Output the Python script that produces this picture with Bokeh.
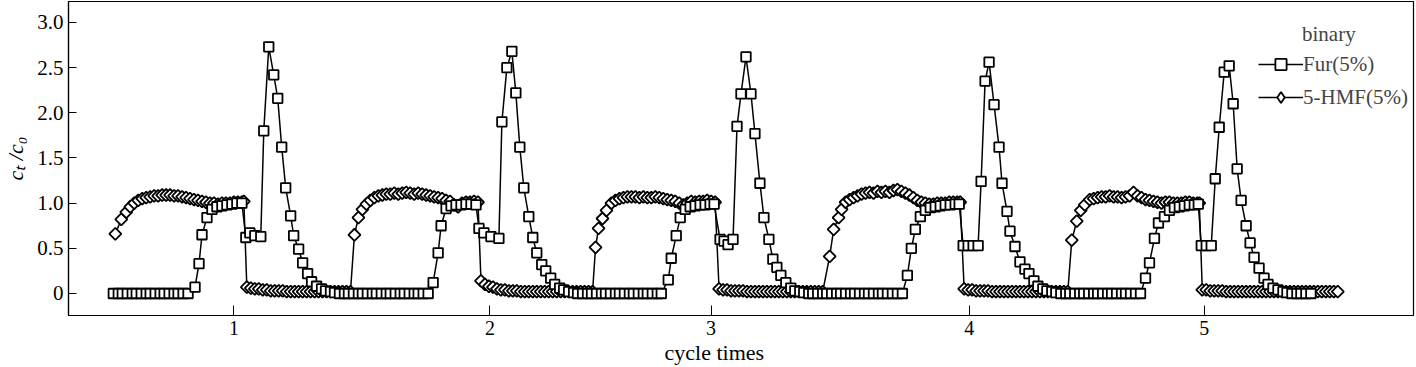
from bokeh.plotting import figure
from bokeh.models import (Range1d, FixedTicker, PrintfTickFormatter, Legend,
                          LegendItem, Label, Title, ColumnDataSource)
from bokeh.embed import file_html
from bokeh.resources import INLINE

# ---------------- data (t: elapsed time, arbitrary units; c: ct/c0) ----------------
cycle_ticks = [229, 486, 708, 967, 1203]
cycle_labels = ["1", "2", "3", "4", "5"]

hmf_t1 = [110,116,121,125,129,133,137,141,145,149,153,157,161,165,169,173,177,181,185,189,
          193,197,201,205,209,213,217,221,225,229,233,237,239,
          242,246,250,254,258,262,266,270,274,278,282,286,290,294,298,302,306,310,314,318,
          322,326,330,334,338,342,346]
hmf_c1 = [0.66,0.82,0.90,0.96,1.00,1.03,1.05,1.06,1.07,1.08,1.08,1.09,1.09,1.09,1.08,1.08,
          1.07,1.06,1.05,1.04,1.03,1.02,1.01,1.00,1.00,0.99,1.00,1.00,1.00,1.01,1.01,1.01,1.02,
          0.07,0.06,0.05,0.05,0.04,0.04,0.03,0.03,0.03,0.03,0.02,0.02,0.02,0.02,0.02,0.02,
          0.02,0.02,0.02,0.02,0.02,0.02,0.02,0.02,0.02,0.02,0.02]

hmf_t2 = [350,354,358,362,366,370,374,378,382,386,390,394,398,402,406,410,414,418,422,426,
          430,434,438,442,446,450,454,458,462,466,470,474,
          477,481,485,489,493,497,501,505,509,513,517,521,525,529,533,537,541,545,549,553,
          557,561,565,569,573,577,581,585,589]
hmf_c2 = [0.65,0.84,0.93,0.99,1.03,1.06,1.08,1.09,1.10,1.10,1.11,1.10,1.11,1.12,1.11,1.10,
          1.11,1.10,1.09,1.08,1.07,1.06,1.05,1.03,1.02,0.98,0.96,1.00,1.01,1.01,1.02,1.01,
          0.14,0.10,0.08,0.07,0.05,0.04,0.04,0.03,0.03,0.03,0.02,0.02,0.02,0.02,0.02,0.02,
          0.02,0.02,0.02,0.02,0.02,0.02,0.02,0.02,0.02,0.02,0.02,0.02,0.02]

hmf_t3 = [592,595,599,603,608,612,616,620,624,628,632,636,640,644,648,652,656,660,664,668,
          672,676,680,684,688,692,696,700,704,708,712,
          716,720,724,728,732,736,740,744,748,752,756,760,764,768,772,776,780,784,788,792,
          796,800,804,808,812,816,820]
hmf_c3 = [0.51,0.72,0.83,0.92,1.00,1.03,1.05,1.06,1.07,1.07,1.07,1.06,1.07,1.06,1.06,1.07,
          1.06,1.05,1.04,1.03,1.02,1.00,0.98,1.00,1.02,1.01,1.02,1.02,1.03,1.02,1.01,
          0.05,0.04,0.04,0.03,0.03,0.03,0.03,0.02,0.02,0.02,0.02,0.02,0.02,0.02,0.02,0.02,
          0.02,0.02,0.02,0.02,0.02,0.02,0.02,0.02,0.02,0.02,0.02]

hmf_t4 = [827,831,836,839,843,847,851,855,859,863,867,871,875,879,883,887,891,895,899,903,
          907,911,915,919,923,927,931,935,939,943,947,951,955,958,
          962,966,970,974,978,982,986,990,994,998,1002,1006,1010,1014,1018,1022,1026,1030,
          1034,1038,1042,1046,1050,1054,1058,1062,1066]
hmf_c4 = [0.41,0.71,0.84,0.93,1.01,1.04,1.06,1.08,1.10,1.11,1.12,1.11,1.13,1.12,1.13,1.12,
          1.14,1.15,1.13,1.11,1.09,1.06,1.03,1.01,1.00,0.99,0.99,1.00,1.00,1.00,1.01,1.01,
          1.01,1.01,
          0.05,0.04,0.04,0.03,0.03,0.03,0.03,0.02,0.02,0.02,0.02,0.02,0.02,0.02,0.02,0.02,
          0.02,0.02,0.02,0.02,0.02,0.02,0.02,0.02,0.02,0.02,0.02]

hmf_t5 = [1070,1075,1079,1083,1088,1092,1096,1100,1104,1108,1112,1116,1120,1124,1128,1132,
          1136,1140,1144,1148,1152,1156,1160,1164,1168,1172,1176,1180,1184,1188,1192,1196,1198,
          1201,1205,1209,1213,1217,1221,1225,1229,1233,1237,1241,1245,1249,1253,1257,1261,
          1265,1269,1273,1277,1281,1285,1289,1293,1297,1301,1305,1309,1313,1317,1321,1325,
          1329,1333,1337]
hmf_c5 = [0.59,0.80,0.92,0.98,1.04,1.05,1.06,1.07,1.07,1.08,1.07,1.07,1.06,1.07,1.08,1.12,
          1.08,1.06,1.04,1.03,1.02,1.01,1.00,1.01,1.01,1.00,1.00,1.00,1.01,1.01,1.00,1.00,1.00,
          0.04,0.04,0.03,0.03,0.03,0.03,0.02,0.02,0.02,0.02,0.02,0.02,0.02,0.02,0.02,0.02,
          0.02,0.02,0.02,0.02,0.02,0.02,0.02,0.02,0.02,0.02,0.02,0.02,0.02,0.02,0.02,0.02,
          0.02,0.02,0.02]

fur_t1 = [108,113,117,122,127,131,136,141,145,150,155,159,164,169,173,178,183,
          190,194,197,202,207,212,217,222,227,232,237,
          241,245,250,256,
          259,264,269,273,277,281,286,289,294,298,303,307,312,317,321,326,330,
          335,340,344,349,354,358,363,368,372,377,382,386,391,396,400,405,410,414,419,424]
fur_c1 = [0,0,0,0,0,0,0,0,0,0,0,0,0,0,0,0,0,
          0.07,0.33,0.65,0.84,0.93,0.96,0.97,0.98,0.99,1.00,1.00,
          0.62,0.67,0.64,0.63,
          1.80,2.73,2.42,2.16,1.62,1.17,0.86,0.64,0.49,0.34,0.22,0.13,0.08,0.05,0.03,0.02,0.01,
          0,0,0,0,0,0,0,0,0,0,0,0,0,0,0,0,0,0,0,0]

fur_t2 = [429,434,437,442,447,452,457,462,467,472,
          475,480,487,495,
          498,503,508,512,516,520,525,529,533,538,542,547,551,556,560,565,570,
          574,579,584,588,593,598,602,607,612,616,621,626,630,635,640,644,649,654,658]
fur_c2 = [0.12,0.45,0.75,0.94,0.97,0.98,0.98,0.99,0.99,0.98,
          0.72,0.67,0.63,0.61,
          1.90,2.50,2.68,2.22,1.62,1.17,0.85,0.62,0.45,0.32,0.25,0.17,0.10,0.06,0.04,0.02,0.01,
          0,0,0,0,0,0,0,0,0,0,0,0,0,0,0,0,0,0,0]

fur_t3 = [665,668,673,677,682,687,692,697,702,707,711,
          717,721,725,730,
          734,738,743,748,752,757,761,766,770,774,778,783,788,792,797,801,
          806,810,815,820,824,829,834,838,843,848,852,857,862,866,871,876,880,885,890,895,900]
fur_c3 = [0.15,0.39,0.64,0.84,0.93,0.96,0.97,0.98,0.98,0.99,0.99,
          0.60,0.58,0.54,0.60,
          1.85,2.21,2.62,2.21,1.77,1.22,0.84,0.60,0.38,0.29,0.20,0.12,0.06,0.03,0.02,0.01,
          0,0,0,0,0,0,0,0,0,0,0,0,0,0,0,0,0,0,0,0,0]

fur_t4 = [905,909,913,918,923,928,933,938,943,948,953,957,
          961,966,971,976,
          979,983,987,992,997,1000,1005,1008,1013,1018,1023,1027,1032,1036,1041,1045,1050,1054,
          1059,1064,1068,1073,1078,1082,1087,1092,1096,1101,1106,1110,1115,1120,1124,1129,1134,1139]
fur_c4 = [0.20,0.50,0.71,0.85,0.92,0.95,0.96,0.97,0.98,0.98,0.99,0.99,
          0.53,0.53,0.53,0.53,
          1.24,2.35,2.56,2.09,1.62,1.22,0.91,0.69,0.52,0.35,0.27,0.22,0.14,0.08,0.05,0.03,0.02,0.01,
          0,0,0,0,0,0,0,0,0,0,0,0,0,0,0,0,0,0]

fur_t5 = [1144,1148,1153,1157,1163,1168,1173,1178,1183,1188,1193,1197,
          1200,1205,1210,
          1214,1218,1223,1228,1232,1236,1240,1245,1249,1253,1258,1263,1267,1272,1277,1282,1286,
          1291,1296,1300,1305,1310]
fur_c5 = [0.17,0.34,0.61,0.78,0.85,0.92,0.95,0.96,0.97,0.98,0.98,0.99,
          0.53,0.53,0.53,
          1.27,1.84,2.45,2.52,2.10,1.38,1.03,0.75,0.56,0.40,0.28,0.17,0.10,0.06,0.04,0.02,0.01,
          0,0,0,0,0]

y_ticks = [0, 0.5, 1.0, 1.5, 2.0, 2.5, 3.0]

# ---------------- assemble ----------------
hmf_t = hmf_t1 + hmf_t2 + hmf_t3 + hmf_t4 + hmf_t5
hmf_c = hmf_c1 + hmf_c2 + hmf_c3 + hmf_c4 + hmf_c5
fur_t = fur_t1 + fur_t2 + fur_t3 + fur_t4 + fur_t5
fur_c = fur_c1 + fur_c2 + fur_c3 + fur_c4 + fur_c5
n = min(len(hmf_t), len(hmf_c)); hmf_t, hmf_c = hmf_t[:n], hmf_c[:n]
m = min(len(fur_t), len(fur_c)); fur_t, fur_c = fur_t[:m], fur_c[:m]

hmf_src = ColumnDataSource(dict(t=hmf_t, c=hmf_c))
fur_src = ColumnDataSource(dict(t=fur_t, c=fur_c))

FONT = "Liberation Serif"

p = figure(width=1416, height=367, output_backend="svg", toolbar_location=None,
           x_range=Range1d(63, 1413), y_range=Range1d(-0.2436, 3.232),
           min_border_left=63, min_border_right=3, min_border_top=1, min_border_bottom=52)
p.background_fill_color = "white"
p.border_fill_color = "white"
p.outline_line_color = "black"
p.outline_line_width = 1.2
p.xgrid.grid_line_color = None
p.ygrid.grid_line_color = None

# axes
p.xaxis.ticker = FixedTicker(ticks=cycle_ticks)
p.xaxis.major_label_overrides = {t: l for t, l in zip(cycle_ticks, cycle_labels)}
p.yaxis.ticker = FixedTicker(ticks=y_ticks)
p.yaxis.formatter = PrintfTickFormatter(format="%.1f")
p.yaxis.major_label_overrides = {0: "0"}
for ax in (p.xaxis[0], p.yaxis[0]):
    ax.axis_line_color = "black"
    ax.axis_line_width = 1.2
    ax.major_tick_line_color = "black"
    ax.major_tick_out = 0
    ax.minor_tick_line_color = None
    ax.major_label_text_font = FONT
    ax.major_label_text_color = "black"
p.xaxis.major_tick_in = 10
p.yaxis.major_tick_in = 8
p.xaxis.major_label_text_font_size = "20px"
p.yaxis.major_label_text_font_size = "21px"
p.xaxis.major_label_standoff = 5
p.yaxis.major_label_standoff = 5

p.yaxis.axis_label = "cₜ /c₀"
p.yaxis.axis_label_text_font = FONT
p.yaxis.axis_label_text_font_style = "italic"
p.yaxis.axis_label_text_font_size = "22px"
p.yaxis.axis_label_text_color = "black"
p.yaxis.axis_label_standoff = 6

# x-axis title (sits left of the frame centre in the original)
p.add_layout(Title(text="cycle times", align="left", offset=596, standoff=0,
                   text_font=FONT, text_font_size="22px", text_font_style="normal",
                   text_color="black"), "below")

# series
hmf_line = p.line("t", "c", source=hmf_src, line_color="black", line_width=1.5)
hmf_pts = p.scatter("t", "c", source=hmf_src, marker="square", angle=0.7854, size=8.5,
                    fill_color="white", line_color="black", line_width=1.8)
fur_line = p.line("t", "c", source=fur_src, line_color="black", line_width=1.5)
fur_pts = p.scatter("t", "c", source=fur_src, marker="square", size=9.5,
                    fill_color="white", line_color="black", line_width=1.8)

# legend-only key for the diamond symbol (legend markers are drawn unrotated);
# its single point is NaN, so nothing is drawn in the plot area
hmf_key = p.scatter(x=[float("nan")], y=[float("nan")], marker="diamond",
                    fill_color="white", line_color="black", line_width=1.8)

legend = Legend(items=[LegendItem(label="Fur(5%)", renderers=[fur_line, fur_pts]),
                       LegendItem(label="5-HMF(5%)", renderers=[hmf_line, hmf_key])],
                location=(1190, 204), border_line_color=None, background_fill_alpha=0,
                padding=0, margin=0, spacing=5, glyph_width=45, glyph_height=28,
                label_height=28, label_standoff=0,
                label_text_font=FONT, label_text_font_size="21px")
p.add_layout(legend)

p.add_layout(Label(x=1328, y=2.87, text="binary", text_align="center",
                   text_baseline="middle", text_font=FONT, text_font_size="21px"))

open("out.html", "w").write(file_html(p, INLINE))
